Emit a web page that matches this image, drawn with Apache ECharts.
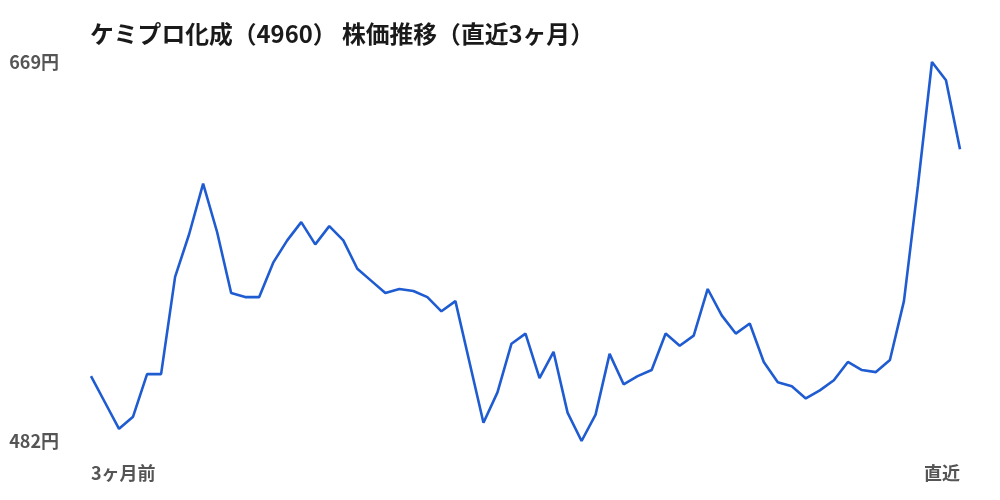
<!DOCTYPE html>
<html>
<head>
<meta charset="utf-8">
<script src="https://cdn.jsdelivr.net/npm/echarts@6/dist/echarts.min.js"></script>
<style>
html,body{margin:0;padding:0;background:#fff;}
#chart{width:1000px;height:500px;}
</style>
</head>
<body>
<div id="chart"></div>
<script>
var titleText = 'ケミプロ化成（4960） 株価推移（直近3ヶ月）';
var prices = [514, 501, 488, 494, 515, 515, 563, 584, 609, 585,
              555, 553, 553, 570, 581, 590, 579, 588, 581, 567,
              561, 555, 557, 556, 553, 546, 551, 521, 491, 506,
              530, 535, 513, 526, 496, 482, 495, 525, 510, 514,
              517, 535, 529, 534, 557, 544, 535, 540, 521, 511,
              509, 503, 507, 512, 521, 517, 516, 522, 551, 608,
              669, 660, 626];
var xEdgeLabels = ['3ヶ月前', '直近'];
var yTicks = [482, 669];
var yUnit = '円';

var categories = prices.map(function (_, i) {
  if (i === 0) return xEdgeLabels[0];
  if (i === prices.length - 1) return xEdgeLabels[1];
  return '';
});

var FONT = '"Noto Sans CJK JP", "Noto Sans", sans-serif';
var chart = echarts.init(document.getElementById('chart'), null, {renderer: 'canvas'});
chart.setOption({
  animation: false,
  backgroundColor: '#ffffff',
  title: {
    text: titleText,
    left: 85,
    top: 17,
    textStyle: {fontFamily: FONT, fontSize: 23.8, fontWeight: 'bold', color: '#1a1a1a'}
  },
  grid: {left: 91, right: 40, top: 62, bottom: 59},
  xAxis: {
    type: 'category',
    data: categories,
    boundaryGap: false,
    axisLine: {show: false},
    axisTick: {show: false},
    splitLine: {show: false},
    axisLabel: {
      interval: 0,
      margin: 23,
      fontFamily: FONT,
      fontSize: 18,
      fontWeight: 'bold',
      color: '#555555',
      alignMinLabel: 'left',
      alignMaxLabel: 'right'
    }
  },
  yAxis: {
    type: 'value',
    min: yTicks[0],
    max: yTicks[yTicks.length - 1],
    axisLine: {show: false},
    axisTick: {show: false},
    splitLine: {show: false},
    axisLabel: {
      customValues: yTicks,
      margin: 32,
      fontFamily: FONT,
      fontSize: 18,
      fontWeight: 'bold',
      color: '#555555',
      formatter: function (v) {
        return yTicks.indexOf(v) >= 0 ? v + yUnit : '';
      }
    }
  },
  series: [{
    type: 'line',
    data: prices,
    showSymbol: false,
    symbol: 'none',
    lineStyle: {color: '#1f5bd1', width: 2.6},
    itemStyle: {color: '#1f5bd1'}
  }]
});
</script>
</body>
</html>
